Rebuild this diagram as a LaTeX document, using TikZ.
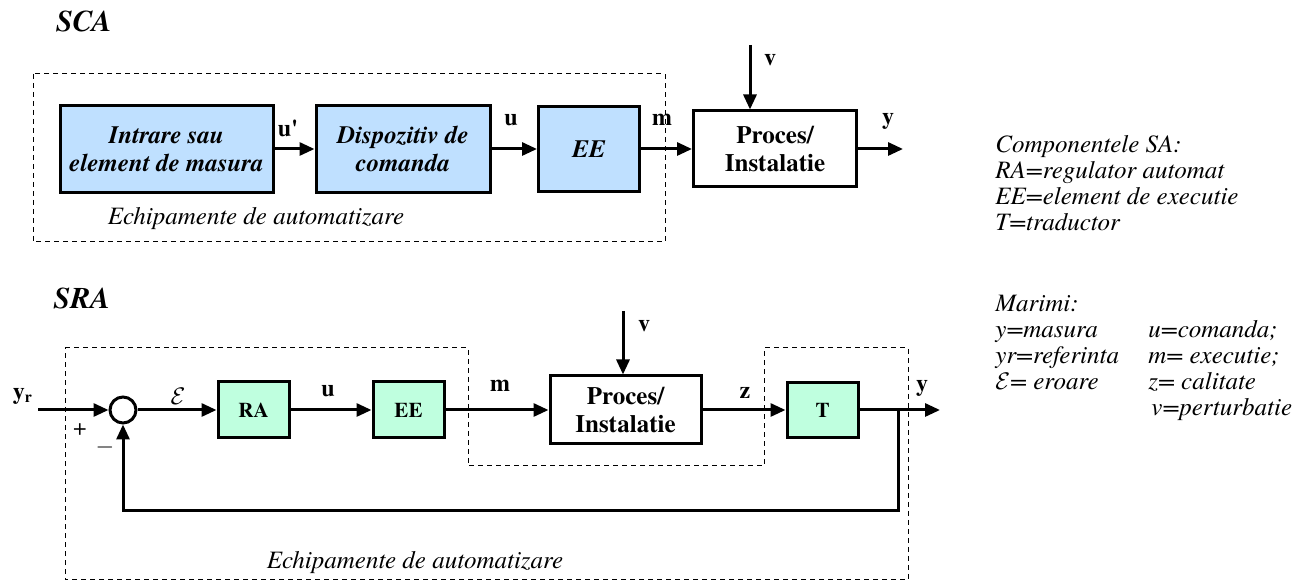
\documentclass[tikz,border=0pt]{standalone}
\usepackage{fontspec}
\setmainfont{texgyretermes}[Extension=.otf, UprightFont=*-regular, BoldFont=*-bold, ItalicFont=*-italic, BoldItalicFont=*-bolditalic]
\usetikzlibrary{arrows.meta}
\definecolor{scablue}{RGB}{191,224,255}
\definecolor{sragreen}{RGB}{191,255,223}
\tikzset{
  every box/.style={
    rectangle,
    draw=black,
    line width=1.5pt,
    inner sep=0pt,
    align=center
  },
  summer/.style={
    circle,
    draw=black,
    line width=1.5pt,
    fill=white,
    minimum size=13pt,
    inner sep=0pt
  },
}
\tikzstyle{block} = [every box, fill=scablue, font=\fontsize{12.5}{14}\selectfont\bfseries\itshape]
\tikzstyle{gblock} = [every box, fill=sragreen, font=\fontsize{10.5}{12}\selectfont\bfseries]
\tikzstyle{proc} = [every box, fill=white, font=\fontsize{12.5}{14}\selectfont\bfseries]
\tikzstyle{arrow} = [line width=1.5pt, -{Triangle[length=7.5pt,width=6.5pt]}]
\tikzstyle{zone} = [line width=0.5pt, dash pattern=on 2.5pt off 2pt]
\tikzstyle{sig} = [font=\fontsize{12}{13}\selectfont\bfseries, inner sep=0pt]
\tikzstyle{title} = [font=\fontsize{15}{17}\selectfont\bfseries\itshape, inner sep=0pt]
\tikzstyle{note} = [font=\fontsize{12.5}{14}\selectfont\itshape, inner sep=0pt]
\tikzstyle{legend} = [font=\fontsize{12.5}{13}\selectfont\itshape, inner sep=0pt, align=left, anchor=north west]

\begin{document}
\begin{tikzpicture}[x=0.5pt, y=-0.5pt, node distance=93pt]
        \useasboundingbox (0,0) rectangle (1303,582);

        % SCA blocks
        \node [title] (sca) at (84,22) {SCA};
        \node [block, minimum width=106.5pt, minimum height=43.5pt] (in) at (166.5,149) {Intrare sau\\element de masura};
        \node [block, right of=in, xshift=25.25pt, minimum width=87pt, minimum height=43.5pt] (cmd) {Dispozitiv de\\comanda};
        \node [block, right of=cmd, minimum width=50.5pt, minimum height=42.5pt] (ee1) {EE};
        \node [proc, right of=ee1, minimum width=81.5pt, minimum height=38pt] (proc1) {Proces/\\Instalatie};
        \coordinate (v1) at (750,45);
        \coordinate (y1) at (903,149);

        % SCA arrows
        \draw [arrow] (in) -- (cmd);
        \draw [arrow] (cmd) -- (ee1);
        \draw [arrow] (ee1) -- (proc1);
        \draw [arrow] (proc1) -- (y1);
        \draw [arrow] (v1) -- (v1 |- proc1.north);

        % SCA labels
        \node [sig] (lu0) at (288,128) {u\textquotesingle};
        \node [sig] (lu1) at (511,120) {u};
        \node [sig] (lm1) at (662,120) {m};
        \node [sig] (ly1) at (888,121) {y};
        \node [sig] (lv1) at (770,60) {v};
        \draw [zone] (33,74) rectangle (665,242);
        \node [note] (eq1) at (256,219) {Echipamente de automatizare};

        % SRA blocks
        \node [title] (sra) at (82,298) {SRA};
        \node [summer] (sum) at (123,410) {};
        \node [gblock, right of=sum, xshift=-27.75pt, minimum width=35.5pt, minimum height=28pt] (ra) {RA};
        \node [gblock, right of=ra, xshift=-15.5pt, minimum width=35.5pt, minimum height=28pt] (ee2) {EE};
        \node [proc, right of=ee2, xshift=15.5pt, minimum width=75.5pt, minimum height=34pt] (proc2) {Proces/\\Instalatie};
        \node [gblock, right of=proc2, xshift=5.5pt, minimum width=35.5pt, minimum height=27.5pt] (t) {T};
        \coordinate (yr) at (38,410);
        \coordinate (br) at (898,410);
        \coordinate (y2) at (940,410);
        \coordinate (v2) at (623,311);

        % SRA arrows
        \draw [arrow] (yr) -- (sum);
        \draw [arrow] (sum) -- (ra);
        \draw [arrow] (ra) -- (ee2);
        \draw [arrow] (ee2) -- (proc2);
        \draw [arrow] (proc2) -- (t);
        \draw [arrow] (t) -- (y2);
        \draw [arrow] (br) -- ++(0,101) -| (sum.south);
        \draw [arrow] (v2) -- (v2 |- proc2.north);

        % SRA labels
        \node [sig] (lyr) at (23,396) {y\textsubscript{r}};
        \node [sig] (leps) at (178,396) {$\mathcal{E}$};
        \node [inner sep=0pt, font=\fontsize{12}{13}\selectfont] (lplus) at (80,430) {+};
        \node [inner sep=0pt, font=\fontsize{12}{13}\selectfont] (lminus) at (105,448) {$-$};
        \node [sig] (lu2) at (328,391) {u};
        \node [sig] (lm2) at (500,386) {m};
        \node [sig] (lz2) at (745,393) {z};
        \node [sig] (lv2) at (644,326) {v};
        \node [sig] (ly2) at (922,388) {y};
        \draw [zone] (65,348) -- (468,348) -- (468,466) -- (764,466) -- (764,348) -- (908,348) -- (908,580) -- (65,580) -- cycle;
        \node [note] (eq2) at (415,563) {Echipamente de automatizare};

        % legend
        \node [legend] (comp) at (995,135) {Componentele SA:\\RA=regulator automat\\EE=element de executie\\T=traductor};
        \node [legend] (mar) at (995,295) {Marimi:\\\makebox[76.5pt][l]{y=masura}u=comanda;\\\makebox[76.5pt][l]{yr=referinta}m= executie;\\\makebox[76.5pt][l]{$\mathcal{E}$= eroare}z= calitate\\\makebox[78pt][l]{}v=perturbatie};
    \end{tikzpicture}
\end{document}
